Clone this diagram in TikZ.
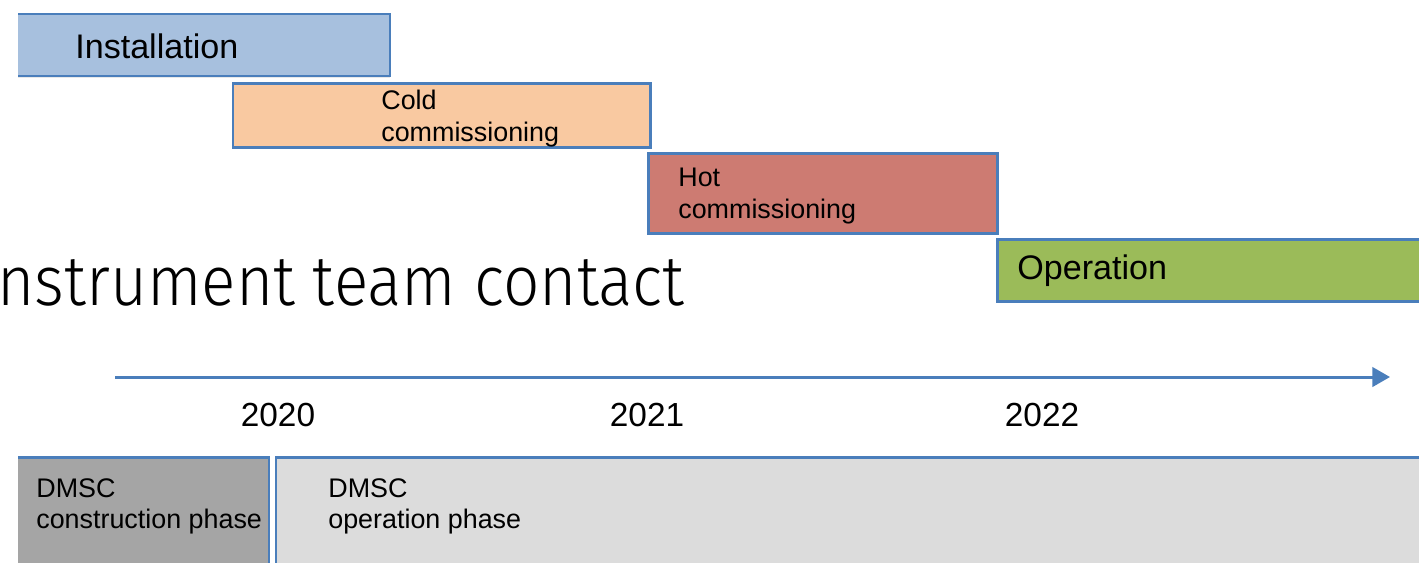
\documentclass[tikz,border=0pt]{standalone}
\usepackage{fontspec}
\setmainfont{Liberation Sans}
\newfontfamily\titlefont[FakeStretch=0.91]{Fira Sans Light}
\usetikzlibrary{arrows.meta,fit,shadows}
\definecolor{edgeblue}{HTML}{4A7EBB}
\definecolor{instfill}{HTML}{A7C0DE}
\definecolor{coldfill}{HTML}{F9C9A1}
\definecolor{hotfill}{HTML}{CD7B72}
\definecolor{operfill}{HTML}{9BBB59}
\definecolor{consfill}{HTML}{A5A5A5}
\definecolor{dmscfill}{HTML}{DCDCDC}
\tikzset{
  bar/.style={draw=edgeblue, line width=1.7pt, inner sep=0pt,
    drop shadow={shadow xshift=0pt, shadow yshift=-1.2pt, opacity=0.18}},
  lbl/.style={inner sep=0pt, anchor=north west, align=left,
    font=\fontsize{15.3}{18.1}\selectfont},
  biglbl/.style={inner sep=0pt, anchor=base west,
    font=\fontsize{19.4}{22}\selectfont},
  year/.style={inner sep=0pt, font=\fontsize{19}{22}\selectfont}
}
\begin{document}
\begin{tikzpicture}[x=0.02cm, y=-0.02cm]
\useasboundingbox (0,0) rectangle (1419,562);
\begin{scope}
\clip (18,0) rectangle (1419,562);
\node (inst) [bar, fill=instfill, fit={(10,14) (390,76)}] {};
\node (cold) [bar, fill=coldfill, fit={(233,83) (650,147)}] {};
\node (hot) [bar, fill=hotfill, fit={(648,153) (997,233)}] {};
\node (oper) [bar, fill=operfill, fit={(997,239) (1430,301)}] {};
\node (cons) [bar, fill=consfill, fit={(10,457) (269,590)}] {};
\node (dmsc) [bar, fill=dmscfill, fit={(276,457) (1430,590)}] {};
\end{scope}
\node[biglbl] (insttxt) at (75,58) {Installation};
\node[lbl] (coldtxt) at (381,90) {Cold\\commissioning};
\node[lbl] (hottxt) at (678,168) {Hot\\commissioning};
\node[biglbl] (opertxt) at (1017,279) {Operation};
\node[lbl] (constxt) at (36,478) {DMSC\\construction phase};
\node[lbl] (dmsctxt) at (328,478) {DMSC\\operation phase};
\node[anchor=base east, inner sep=0pt, font=\titlefont\fontsize{40}{40}\selectfont] (title) at (685,305) {nstrument team contact};
\coordinate (tl) at (115,377);
\coordinate (tr) at (1390,377);
\draw[edgeblue, line width=1.7pt, -{Triangle[length=10pt,width=11pt]}] (tl) -- (tr);
\node[year] (y2020) at (278,415) {2020};
\node[year] (y2021) at (647,415) {2021};
\node[year] (y2022) at (1042,415) {2022};
\end{tikzpicture}
\end{document}
